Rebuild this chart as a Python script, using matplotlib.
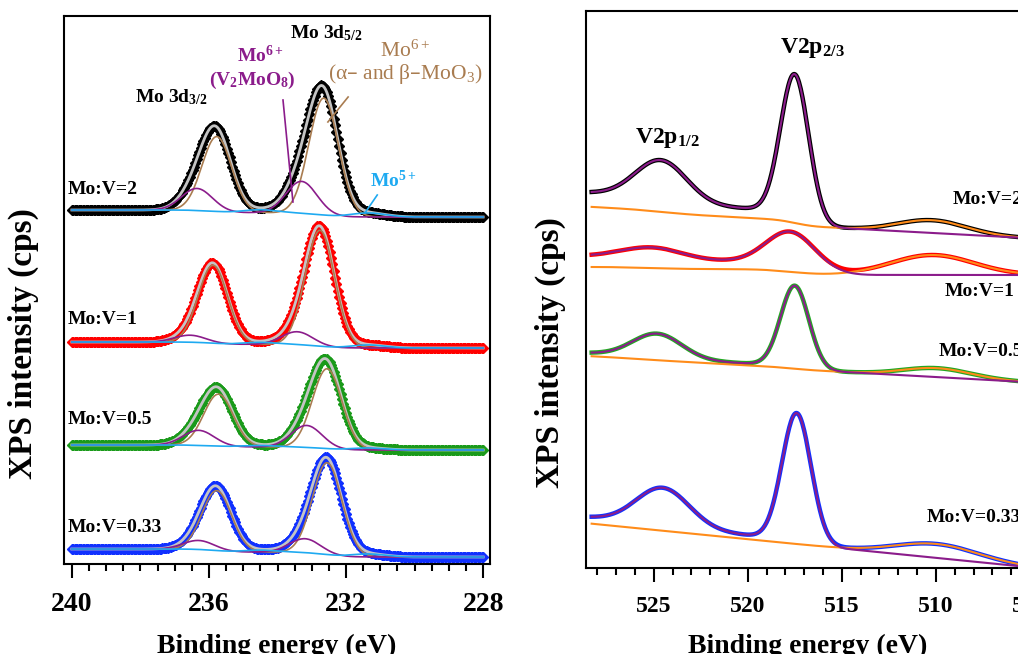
import numpy as np
import matplotlib.pyplot as plt
from matplotlib.ticker import MultipleLocator

plt.rcParams['font.family'] = ['Liberation Serif', 'DejaVu Serif']
plt.rcParams['font.weight'] = 'bold'
plt.rcParams['axes.labelweight'] = 'bold'
plt.rcParams['mathtext.default'] = 'regular'

# ===============================
# DATA - Mo 3d (fit peaks: centre eV, height)
# ===============================
mo_labels = ["Mo:V=2", "Mo:V=1", "Mo:V=0.5", "Mo:V=0.33"]
mo_colors = ["black", "red", "#1a9a1a", "#1030ff"]
mo_base = [347, 216, 114, 7]        # background at 228 eV
mo_step = [7, 6, 5, 8]              # shirley step
moo3_pos = [(232.65, 235.77), (232.76, 235.88), (232.55, 235.72), (232.55, 235.77)]
moo3_h = [(117, 75), (116, 78), (80, 52), (92, 60)]
v2moo8_pos = [(233.30, 236.35), (233.43, 236.55), (233.15, 236.30), (233.20, 236.30)]
v2moo8_h = [(32, 22), (13, 7), (22, 15), (14, 9)]
mo5_pos = [(231.35, 234.50), (231.35, 234.50), (231.35, 234.50), (231.35, 234.50)]
mo5_h = [(4, 3), (3, 2), (2, 1.5), (3, 2)]
moo3_sig, v2moo8_sig, mo5_sig = 0.43, 0.45, 0.5

# ===============================
# DATA - V 2p (fit peaks)
# ===============================
v_labels = ["Mo:V=2", "Mo:V=1", "Mo:V=0.5", "Mo:V=0.33"]
v_colors = ["black", "red", "#22a722", "#1030ff"]
v_base = [331, 293, 187, 3]          # linear background at 506.2 eV
v_slope = [1.0, 0.0, 1.03, 1.87]
v_step_fit = [22, 19, 5, 6]
v_step_bg = [8, 8, 2, 0]
v32_pos = [517.5, 517.65, 517.5, 517.4]
v32_h = [144, 36, 82, 129]
v32_sig = [0.75, 1.3, 0.75, 0.77]
v12_pos = [524.57, 525.0, 524.8, 524.5]
v12_h = [40, 11, 24, 38]
v12_sig = [1.36, 1.6, 1.3, 1.4]
sat_pos = [510.2, 510.2, 509.95, 509.95]
sat_h = [12.8, 20, 9, 14]
sat_sig = [1.8, 2.2, 1.8, 2.2]


def gauss(x, c, h, s):
    return h * np.exp(-(x - c) ** 2 / (2 * s ** 2))


def shirley(x, peaks):
    # cumulative fraction of peak area from low BE side
    c = np.cumsum(peaks)
    return c / c[-1]


BROWN = "#a97c50"
PURPLE = "#8b1c8b"
LBLUE = "#1eaaf1"
ORANGE = "#ff8c1a"
GREY = "#c4c4c4"

fig = plt.figure(figsize=(10.18, 6.54), dpi=100)

# ===============================
# LEFT PANEL - Mo 3d
# ===============================
ax1 = fig.add_axes([64 / 1018, 90 / 654, 426 / 1018, 548 / 654])
E = np.linspace(228, 240, 301)
for i in range(4):
    brown = sum(gauss(E, c, h, moo3_sig) for c, h in zip(moo3_pos[i], moo3_h[i]))
    purp = sum(gauss(E, c, h, v2moo8_sig) for c, h in zip(v2moo8_pos[i], v2moo8_h[i]))
    blue5 = sum(gauss(E, c, h, mo5_sig) for c, h in zip(mo5_pos[i], mo5_h[i]))
    total = brown + purp + blue5
    bg = mo_base[i] + mo_step[i] * shirley(E, total)
    ax1.plot(E, bg + total, ls="none", marker="D", ms=5, color=mo_colors[i], zorder=2)
    ax1.plot(E, bg + total, color=GREY, lw=2, zorder=3)
    ax1.plot(E, bg + brown, color=BROWN, lw=1.2, zorder=4)
    ax1.plot(E, bg + purp, color=PURPLE, lw=1.2, zorder=4)
    ax1.plot(E, bg + blue5, color=LBLUE, lw=1.2, zorder=4)

for lab, y in zip(mo_labels, [374, 244, 144, 37]):
    ax1.text(240.12, y, lab, fontsize=14, va="center", ha="left", zorder=5)

ax1.text(237.1, 467, r"Mo 3d$_{3/2}$", fontsize=14, ha="center", va="center")
ax1.text(232.58, 531, r"Mo 3d$_{5/2}$", fontsize=14, ha="center", va="center")
ax1.text(234.5, 509, r"Mo$^{6+}$", fontsize=14, ha="center", va="center", color=PURPLE)
ax1.text(234.74, 484, r"(V$_2$MoO$_8$)", fontsize=14, ha="center", va="center", color=PURPLE)
ax1.text(230.28, 513, r"Mo$^{6+}$", fontsize=15.5, ha="center", va="center", color=BROWN,
         fontweight="normal")
ax1.text(230.28, 490, "(\u03b1\u2013 and \u03b2\u2013MoO$_3$)", fontsize=15.5, ha="center",
         va="center", color=BROWN, fontweight="normal")
ax1.text(230.6, 384, r"Mo$^{5+}$", fontsize=14, ha="center", va="center", color=LBLUE)
ax1.plot([233.84, 233.55], [464, 362], color=PURPLE, lw=1.2, zorder=6)
ax1.plot([231.94, 232.53], [467, 442], color=BROWN, lw=1.2, zorder=6)
ax1.plot([231.09, 231.45], [369, 351], color=LBLUE, lw=1.2, zorder=6)

ax1.set_xlim(240.23, 227.8)
ax1.set_ylim(0, 548)
ax1.set_yticks([])
ax1.xaxis.set_major_locator(MultipleLocator(4))
ax1.xaxis.set_minor_locator(MultipleLocator(0.5))
ax1.tick_params(axis="x", which="major", length=10, width=1.5, labelsize=20, pad=10)
ax1.tick_params(axis="x", which="minor", length=5, width=1.5)
ax1.set_xlabel("Binding energy (eV)", fontsize=20)
ax1.xaxis.set_label_coords(0.5, -0.128)
ax1.set_ylabel("XPS intensity (cps)", fontsize=24)
ax1.yaxis.set_label_coords(-0.058, 0.403)
for s in ax1.spines.values():
    s.set_linewidth(1.5)

# ===============================
# RIGHT PANEL - V 2p
# ===============================
ax2 = fig.add_axes([586 / 1018, 86 / 654, 444 / 1018, 557 / 654])
Ev = np.linspace(505, 528.3, 500)
for i in range(4):
    vpk = gauss(Ev, v32_pos[i], v32_h[i], v32_sig[i]) + gauss(Ev, v12_pos[i], v12_h[i], v12_sig[i])
    frac = shirley(Ev, vpk)
    lin = v_base[i] + v_slope[i] * (Ev - 506.2)
    sat = gauss(Ev, sat_pos[i], sat_h[i], sat_sig[i])
    fit = lin + v_step_fit[i] * frac + vpk
    orange = lin + v_step_bg[i] * frac + sat
    data = fit + sat
    ax2.plot(Ev, data, color=v_colors[i], lw=3.2, zorder=2)
    ax2.plot(Ev, orange, color=ORANGE, lw=1.5, zorder=3)
    ax2.plot(Ev, fit, color=PURPLE, lw=1.5, zorder=4)

for lab, x, y in zip(v_labels, [509.1, 509.52, 509.84, 510.48], [369, 276, 217, 51]):
    ax2.text(x, y, lab, fontsize=14, va="center", ha="left")

ax2.text(516.54, 520, r"V2p$_{2/3}$", fontsize=17, ha="center", va="center")
ax2.text(524.26, 430, r"V2p$_{1/2}$", fontsize=17, ha="center", va="center")

ax2.set_xlim(528.6, 505.0)
ax2.set_ylim(0, 557)
ax2.set_yticks([])
ax2.xaxis.set_major_locator(MultipleLocator(5))
ax2.xaxis.set_minor_locator(MultipleLocator(1))
ax2.tick_params(axis="x", which="major", length=10, width=1.5, labelsize=17, pad=10)
ax2.tick_params(axis="x", which="minor", length=5, width=1.5)
ax2.set_xlabel("Binding energy (eV)", fontsize=20)
ax2.xaxis.set_label_coords(0.5, -0.118)
ax2.set_ylabel("XPS intensity (cps)", fontsize=24)
ax2.yaxis.set_label_coords(-0.045, 0.386)
for s in ax2.spines.values():
    s.set_linewidth(1.5)

fig.savefig("out.png", dpi=100)
